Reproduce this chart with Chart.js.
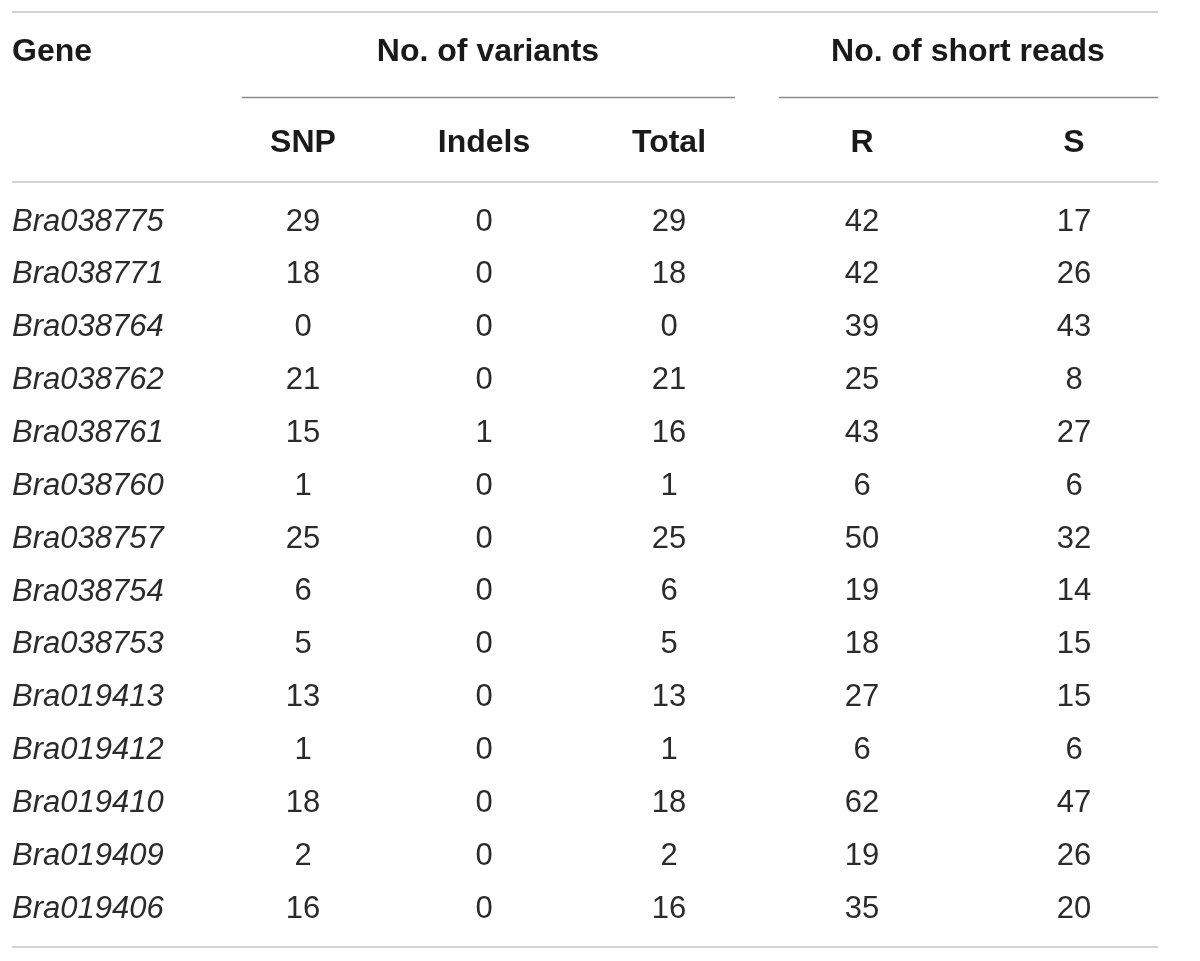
<!DOCTYPE html>
<html>
<head>
<meta charset="utf-8">
<script src="https://cdn.jsdelivr.net/npm/chart.js@4/dist/chart.umd.min.js"></script>
<style>
  html, body { margin: 0; padding: 0; background: #fff; }
  #wrap { width: 1200px; height: 961px; position: relative; }
</style>
</head>
<body>
<div id="wrap"><canvas id="table"></canvas></div>
<script>
// Table data
const genes = ['Bra038775', 'Bra038771', 'Bra038764', 'Bra038762', 'Bra038761', 'Bra038760', 'Bra038757',
  'Bra038754', 'Bra038753', 'Bra019413', 'Bra019412', 'Bra019410', 'Bra019409', 'Bra019406'];
const snp    = [29, 18, 0, 21, 15, 1, 25, 6, 5, 13, 1, 18, 2, 16];
const indels = [0, 0, 0, 0, 1, 0, 0, 0, 0, 0, 0, 0, 0, 0];
const total  = [29, 18, 0, 21, 16, 1, 25, 6, 5, 13, 1, 18, 2, 16];
const readsR = [42, 42, 39, 25, 43, 6, 50, 19, 18, 27, 6, 62, 19, 35];
const readsS = [17, 26, 43, 8, 27, 6, 32, 14, 15, 15, 6, 47, 26, 20];

const columnLabels = ['SNP', 'Indels', 'Total', 'R', 'S'];
const groupLabels = ['No. of variants', 'No. of short reads'];

// Layout (x in canvas-width units, y in row units: data row i sits at y = i)
const colX = [12, 303, 484, 669, 862, 1074];
const groupX = [488, 968];
const groupSpan = [[242, 735], [779, 1158]];
const headY = -3.19, subY = -1.47;
const rules = [
  { y: -3.95, x0: 12, x1: 1158, color: '#d2d2d2', w: 2 },
  { y: -0.74, x0: 12, x1: 1158, color: '#d2d2d2', w: 2 },
  { y: 13.74, x0: 12, x1: 1158, color: '#d2d2d2', w: 2 }
];

const columns = [genes, snp, indels, total, readsR, readsS];

const datasets = columns.map((col, c) => ({
  label: c === 0 ? 'Gene' : columnLabels[c - 1],
  data: col.map((v, i) => ({ x: colX[c], y: i, text: String(v) })),
  pointRadius: 0,
  showLine: false
}));

const tablePlugin = {
  id: 'tableText',
  afterDatasetsDraw(chart) {
    const ctx = chart.ctx;
    const xs = chart.scales.x, ys = chart.scales.y;
    ctx.save();

    // horizontal rules
    rules.forEach(r => {
      ctx.strokeStyle = r.color;
      ctx.lineWidth = r.w;
      ctx.beginPath();
      const py = Math.round(ys.getPixelForValue(r.y));
      ctx.moveTo(xs.getPixelForValue(r.x0), py);
      ctx.lineTo(xs.getPixelForValue(r.x1), py);
      ctx.stroke();
    });
    // group underlines
    ctx.strokeStyle = '#8a8a8a';
    ctx.lineWidth = 1.5;
    groupSpan.forEach(s => {
      const py = Math.round(ys.getPixelForValue(-2.35)) + 0.5;
      ctx.beginPath();
      ctx.moveTo(xs.getPixelForValue(s[0]), py);
      ctx.lineTo(xs.getPixelForValue(s[1]), py);
      ctx.stroke();
    });

    // headers
    ctx.fillStyle = '#1a1a1a';
    ctx.textBaseline = 'middle';
    ctx.font = 'bold 32px "Liberation Sans", Arial, sans-serif';
    ctx.textAlign = 'left';
    ctx.fillText('Gene', xs.getPixelForValue(colX[0]), ys.getPixelForValue(headY));
    ctx.textAlign = 'center';
    groupLabels.forEach((g, i) => ctx.fillText(g, xs.getPixelForValue(groupX[i]), ys.getPixelForValue(headY)));
    columnLabels.forEach((l, i) => ctx.fillText(l, xs.getPixelForValue(colX[i + 1]), ys.getPixelForValue(subY)));

    // body cells
    ctx.fillStyle = '#2b2b2b';
    chart.data.datasets.forEach((ds, c) => {
      const meta = chart.getDatasetMeta(c);
      if (c === 0) {
        ctx.font = 'italic 31px "Liberation Sans", Arial, sans-serif';
        ctx.textAlign = 'left';
      } else {
        ctx.font = '31px "Liberation Sans", Arial, sans-serif';
        ctx.textAlign = 'center';
      }
      meta.data.forEach((pt, i) => {
        ctx.fillText(ds.data[i].text, pt.x, pt.y + 1);
      });
    });
    ctx.restore();
  }
};

new Chart(document.getElementById('table'), {
  type: 'scatter',
  data: { datasets },
  options: {
    responsive: true,
    maintainAspectRatio: false,
    animation: false,
    layout: { padding: 0 },
    plugins: { legend: { display: false }, tooltip: { enabled: false } },
    scales: {
      x: { type: 'linear', display: false, min: 0, max: 1200 },
      y: { type: 'linear', display: false, reverse: true, min: -221 / 52.85, max: (961 - 221) / 52.85 }
    }
  },
  plugins: [tablePlugin]
});
</script>
</body>
</html>
